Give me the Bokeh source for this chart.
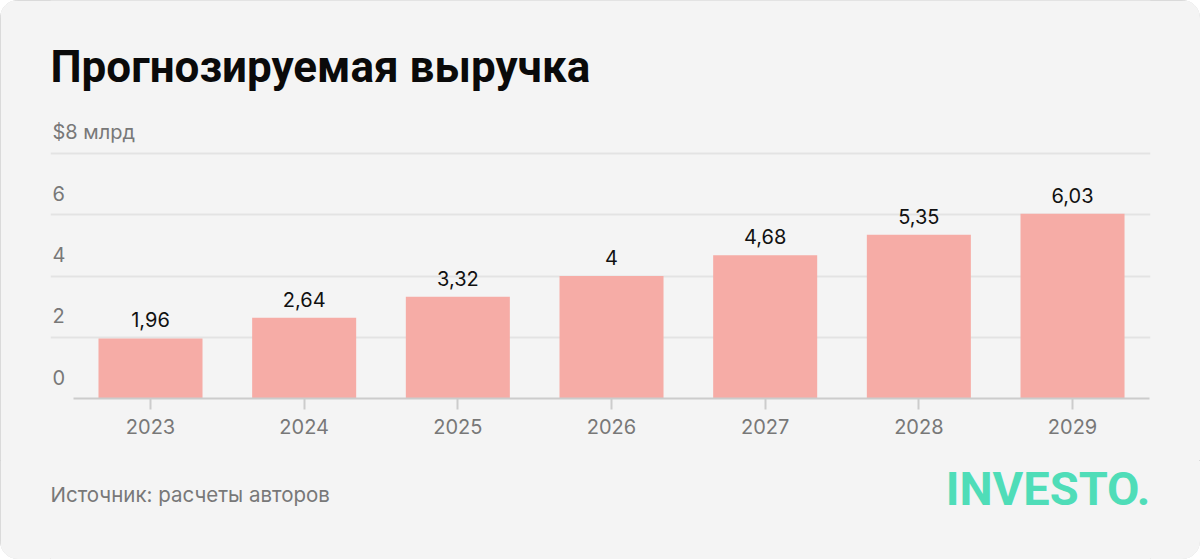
from bokeh.plotting import figure
from bokeh.layouts import column
from bokeh.models import Range1d, FixedTicker, Grid, Label, ColumnDataSource
from bokeh.core.properties import value
from bokeh.embed import file_html
from bokeh.resources import INLINE

years = ["2023", "2024", "2025", "2026", "2027", "2028", "2029"]
revenue = [1.96, 2.64, 3.32, 4.0, 4.68, 5.35, 6.03]
value_labels = ["1,96", "2,64", "3,32", "4", "4,68", "5,35", "6,03"]
y_ticks = [0, 2, 4, 6, 8]
y_tick_labels = ["0", "2", "4", "6", "$8 млрд"]
title_text = "Прогнозируемая выручка"
source_text = "Источник: расчеты авторов"
logo_text = "INVESTO."

W, H = 1200, 559
MAIN_H = 460
FOOT_H = H - MAIN_H
left_px, right_px = 50, 1150
base_px = 398
first_center_px = 150
step_px = 153.67
unit_px = 245 / 8

x_start = -(first_center_px - left_px) / step_px
x_end = x_start + (right_px - left_px) / step_px
y_end = base_px / unit_px


def px_x(px):
    return x_start + (px - left_px) / step_px


def px_y(py):
    return (base_px - py) / unit_px


BG = "#f4f4f4"
GRAY = "#787878"
SANS = value("Inter")

p = figure(width=W, height=MAIN_H, output_backend="svg", toolbar_location=None,
           x_range=Range1d(x_start, x_end), y_range=Range1d(0, y_end),
           y_axis_location=None,
           min_border_left=left_px, min_border_right=W - right_px,
           min_border_top=0, min_border_bottom=MAIN_H - base_px,
           background_fill_color=BG, border_fill_color=BG)
p.outline_line_color = None
for g in p.grid:
    g.visible = False

grid = Grid(dimension=1, ticker=FixedTicker(ticks=y_ticks),
            grid_line_color="#e3e3e3", grid_line_width=2)
p.add_layout(grid)

idx = list(range(len(years)))
src = ColumnDataSource(dict(x=idx, top=revenue, label=value_labels))
p.vbar(x="x", top="top", bottom=0, width=0.677, source=src,
       fill_color="#f6aca6", line_color=None)

p.text(x="x", y="top", text="label", source=src,
       text_align="center", text_baseline="bottom", y_offset=-11,
       text_font=SANS, text_font_size="20px", text_color="#111111")

# numeric tick labels sit above their grid lines; the unit label on the top line
n_num = len(y_ticks) - 1
ysrc = ColumnDataSource(dict(y=y_ticks[:n_num], label=y_tick_labels[:n_num],
                             x=[x_start] * n_num))
p.text(x="x", y="y", text="label", source=ysrc, x_offset=2, y_offset=-14,
       text_align="left", text_baseline="bottom",
       text_font=SANS, text_font_size="20px", text_color=GRAY)
usrc = ColumnDataSource(dict(y=y_ticks[n_num:], label=y_tick_labels[n_num:],
                             x=[x_start]))
p.text(x="x", y="y", text="label", source=usrc, x_offset=2, y_offset=-10,
       text_align="left", text_baseline="bottom",
       text_font=SANS, text_font_size="20px", text_color=GRAY)

ax = p.xaxis[0]
ax.ticker = FixedTicker(ticks=idx)
ax.major_label_overrides = {i: y for i, y in zip(idx, years)}
ax.bounds = (-0.5, len(years) - 0.5)
ax.axis_line_color = "#cccccc"
ax.axis_line_width = 2
ax.major_tick_line_color = "#cccccc"
ax.major_tick_line_width = 2
ax.major_tick_in = 0
ax.major_tick_out = 11
ax.minor_tick_line_color = None
ax.major_label_standoff = 9
ax.major_label_text_font = "Inter"
ax.major_label_text_font_size = "20px"
ax.major_label_text_color = GRAY

p.add_layout(Label(x=px_x(50), y=px_y(66), text=title_text,
                   text_font="Roboto", text_font_style="bold",
                   text_font_size="44px", text_color="#0a0a0a",
                   text_baseline="middle", text_align="left"))

# footer with source and logo (frame is aligned with the chart frame: 50..1150 px)
f = figure(width=W, height=FOOT_H, output_backend="svg", toolbar_location=None,
           x_range=Range1d(left_px, right_px), y_range=Range1d(H, MAIN_H),
           x_axis_location=None, y_axis_location=None,
           min_border=0, background_fill_color=BG, border_fill_color=BG)
f.outline_line_color = None
f.grid.visible = False
f.add_layout(Label(x=50, y=494, text=source_text,
                   text_font="Inter", text_font_size="20.5px", text_color=GRAY,
                   text_baseline="middle", text_align="left"))
f.add_layout(Label(x=1150, y=488, text=logo_text,
                   text_font="Roboto", text_font_style="bold",
                   text_font_size="47px", text_color="#4fddb8",
                   text_baseline="middle", text_align="right"))

layout = column(p, f, spacing=0)
layout.styles = {"border-radius": "18px", "overflow": "hidden",
                 "outline": "1px solid #d2d2d2", "outline-offset": "-1px",
                 "background-color": BG}

open("out.html", "w").write(file_html(layout, INLINE))
